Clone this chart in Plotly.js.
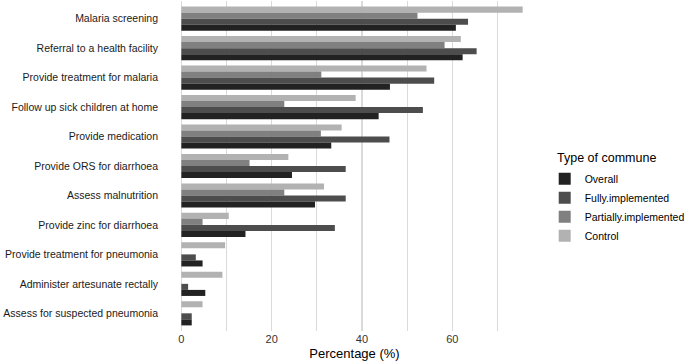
<!DOCTYPE html>
<html><head><meta charset="utf-8">
<script src="https://cdn.plot.ly/plotly-3.0.1.min.js"></script>
<style>html,body{margin:0;padding:0;background:#fff}</style>
</head><body><div id="chart" style="width:685px;height:361px"></div>
<script>
const categories = ["Malaria screening","Referral to a health facility","Provide treatment for malaria","Follow up sick children at home","Provide medication","Provide ORS for diarrhoea","Assess malnutrition","Provide zinc for diarrhoea","Provide treatment for pneumonia","Administer artesunate rectally","Assess for suspected pneumonia"];
const overall = [60.8,62.3,46.2,43.7,33.2,24.5,29.6,14.2,4.7,5.3,2.3];
const fully = [63.5,65.4,56.0,53.5,46.1,36.4,36.4,34.0,3.2,1.5,2.3];
const partially = [52.3,58.3,31.0,22.8,30.9,15.1,22.8,4.7,0,0,0];
const control = [75.6,61.9,54.3,38.6,35.5,23.7,31.6,10.5,9.7,9.1,4.7];
const seriesNames = ["Overall","Fully.implemented","Partially.implemented","Control"];
const colors = ["#222222","#4d4d4d","#808080","#b2b2b2"];
const xTicks = [0,20,40,60];
const legendTitle = "Type of commune";

const seriesVals = [overall, fully, partially, control];
const traces = [];
for (let i = 3; i >= 0; i--) {
  traces.push({type:'bar', orientation:'h', name:seriesNames[i], y:categories, x:seriesVals[i],
    marker:{color:colors[i], line:{width:0}}, hoverinfo:'x+y'});
}
const layout = {
  width:685, height:361,
  margin:{l:180, r:156, t:1, b:30, autoexpand:false},
  paper_bgcolor:'#fff', plot_bgcolor:'#fff',
  font:{family:'Liberation Sans, Arial, sans-serif', color:'#1a1a1a', size:11},
  barmode:'group', bargap:0.18, bargroupgap:0,
  xaxis:{range:[-0.3,77], tickvals:xTicks, ticktext:xTicks.map(String), showgrid:true, gridcolor:'#dadada', gridwidth:1.2,
    minor:{tickvals:[10,30,50,70], showgrid:true, gridcolor:'#dadada', gridwidth:1.2, ticks:''},
    zeroline:false, showline:false, ticks:'', tickfont:{size:11, color:'#333'}, automargin:false,
    title:{text:'Percentage (%)', font:{size:13, color:'#000'}, standoff:10}},
  yaxis:{range:[10.6,-0.6], showgrid:false, zeroline:false, ticks:'', automargin:false,
    tickfont:{size:10.5, color:'#1a1a1a'}, ticklabelstandoff:21},
  legend:{x:1.045, xanchor:'left', y:0.505, yanchor:'top', traceorder:'reversed',
    font:{size:10.5, color:'#000'}, tracegroupgap:0, itemwidth:30, bgcolor:'rgba(0,0,0,0)'},
  annotations:[{text:legendTitle, xref:'paper', yref:'paper', x:1.074, xanchor:'left', y:0.55, yanchor:'top',
    showarrow:false, font:{size:12.5, color:'#000'}}]
};
Plotly.newPlot('chart', traces, layout, {displayModeBar:false, staticPlot:true});
</script></body></html>
